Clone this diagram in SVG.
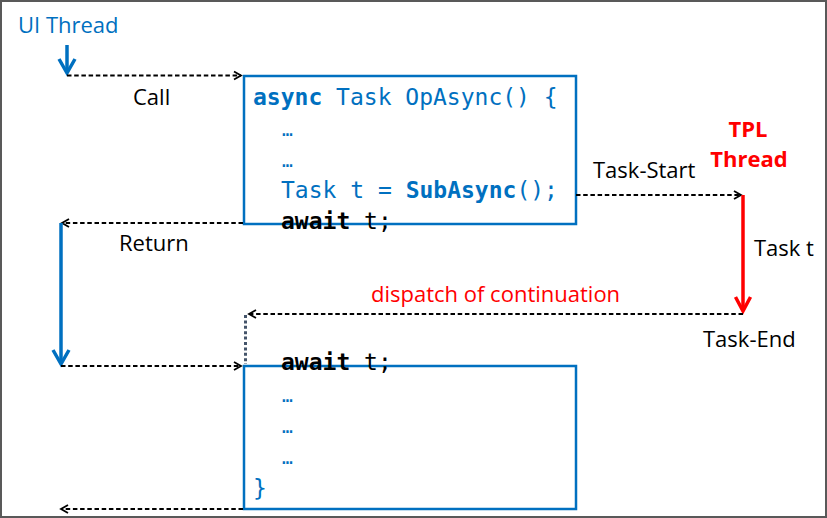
<svg xmlns="http://www.w3.org/2000/svg" width="827" height="518" viewBox="0 0 827 518">
<style>
.lbl{font-family:"Open Sans","Liberation Sans",sans-serif;font-size:22px;fill:#000}
.blue{fill:#0070C0}
.red{fill:#FF0000}
.code{font-family:"DejaVu Sans Mono","Liberation Mono",monospace;font-size:23px;fill:#0070C0}
.ell{font-size:18px}
.b{font-weight:bold}
.k{fill:#000}
.box{fill:none;stroke:#0070C0;stroke-width:2.5}
.dash{fill:none;stroke:#000;stroke-width:1.8;stroke-dasharray:4.5 2.7}
.thick{fill:none;stroke-width:3.5}
</style>
<defs>
<marker id="ah" markerUnits="userSpaceOnUse" markerWidth="12" markerHeight="12" refX="8" refY="5" orient="auto" overflow="visible">
<path d="M1,1 L8,5 L1,9" fill="none" stroke="#000" stroke-width="1.8"/>
</marker>
<marker id="ahBlue" markerUnits="userSpaceOnUse" markerWidth="20" markerHeight="20" refX="14" refY="9" orient="auto" overflow="visible">
<path d="M0,1 L14,9 L0,17" fill="none" stroke="#0070C0" stroke-width="3.5"/>
</marker>
<marker id="ahRed" markerUnits="userSpaceOnUse" markerWidth="20" markerHeight="20" refX="14" refY="8" orient="auto" overflow="visible">
<path d="M0,0.5 L14,8 L0,15.5" fill="none" stroke="#FF0000" stroke-width="3.5"/>
</marker>
</defs>
<rect x="1" y="1" width="825" height="516" fill="#fff" stroke="#595959" stroke-width="2"/>

<g id="ui-thread">
<text class="lbl blue" x="18" y="33">UI Thread</text>
</g>
<g id="tpl-thread">
<text class="lbl red b" x="748" y="137" text-anchor="middle">TPL</text>
<text class="lbl red b" x="749" y="167" text-anchor="middle">Thread</text>
</g>

<g id="box-opasync">
<rect class="box" x="244" y="76" width="332" height="148"/>
<text class="code" x="253" y="105"><tspan class="b">async</tspan> Task OpAsync() {</text>
<text class="code ell" x="282" y="136">…</text>
<text class="code ell" x="282" y="167">…</text>
<text class="code" x="281" y="198">Task t = <tspan class="b">SubAsync</tspan>();</text>
<text class="code k" x="281" y="229"><tspan class="b">await</tspan> t;</text>
</g>

<g id="box-continuation">
<rect class="box" x="244" y="366" width="332" height="143"/>
<text class="code k" x="281" y="370"><tspan class="b">await</tspan> t;</text>
<text class="code ell" x="282" y="402">…</text>
<text class="code ell" x="282" y="433">…</text>
<text class="code ell" x="282" y="464">…</text>
<text class="code" x="253" y="496">}</text>
</g>

<g id="connectors">
<line class="thick" stroke="#0070C0" x1="67" y1="45" x2="67" y2="73" marker-end="url(#ahBlue)"/>
<line class="dash" x1="67" y1="75.5" x2="241" y2="75.5" marker-end="url(#ah)"/>
<line class="dash" x1="243" y1="223" x2="62" y2="223" marker-end="url(#ah)"/>
<line class="thick" stroke="#0070C0" x1="61" y1="223" x2="61" y2="364" marker-end="url(#ahBlue)"/>
<line class="dash" x1="61" y1="366" x2="241" y2="366" marker-end="url(#ah)"/>
<line class="dash" x1="576" y1="195" x2="741" y2="195" marker-end="url(#ah)"/>
<line class="thick" stroke="#FF0000" x1="743" y1="195" x2="743" y2="311" marker-end="url(#ahRed)"/>
<line class="dash" x1="743" y1="314" x2="249" y2="314" marker-end="url(#ah)"/>
<line x1="245.5" y1="315" x2="245.5" y2="364" fill="none" stroke="#44546A" stroke-width="3" stroke-dasharray="3 2.4"/>
<line class="dash" x1="243" y1="509" x2="61" y2="509" marker-end="url(#ah)"/>
</g>

<g id="labels">
<text class="lbl" x="133" y="105">Call</text>
<text class="lbl" x="119" y="251">Return</text>
<text class="lbl" x="593" y="178">Task-Start</text>
<text class="lbl" x="754" y="256">Task t</text>
<text class="lbl red" x="371" y="302">dispatch of continuation</text>
<text class="lbl" x="703" y="347">Task-End</text>
</g>
</svg>
